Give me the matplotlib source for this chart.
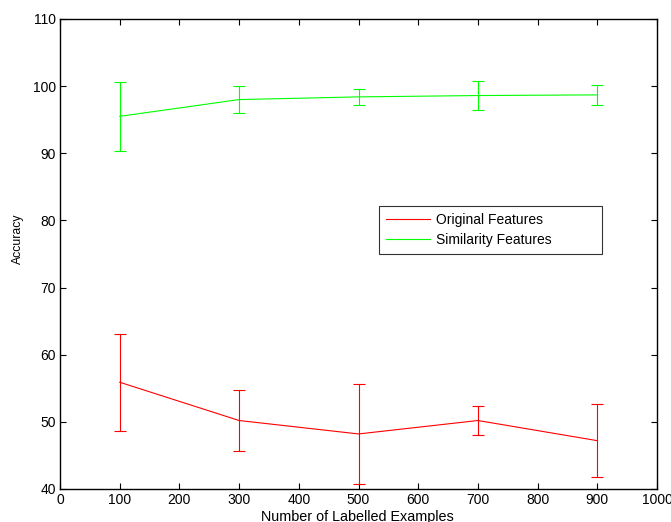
import matplotlib
matplotlib.use("Agg")
import matplotlib.pyplot as plt
from matplotlib.lines import Line2D

plt.rcParams['font.family'] = ['Liberation Sans', 'DejaVu Sans']

x = [100, 300, 500, 700, 900]
orig_mean = [55.9, 50.2, 48.2, 50.2, 47.2]
orig_err = [7.2, 4.5, 7.5, 2.2, 5.45]
sim_mean = [95.5, 98.0, 98.4, 98.6, 98.7]
sim_err = [5.1, 1.95, 1.15, 2.1, 1.5]
xticks = [0, 100, 200, 300, 400, 500, 600, 700, 800, 900, 1000]
yticks = [40, 50, 60, 70, 80, 90, 100, 110]
labels = ['Original Features', 'Similarity Features']
colors = [(1, 0, 0), (0, 1, 0)]

W, H = 671, 522
fig = plt.figure(figsize=(W/100, H/100), dpi=100)
ax = fig.add_axes([60/W, 33/H, 597/W, 470/H])

lw = 0.8
ax.errorbar(x, orig_mean, yerr=orig_err, color=colors[0], lw=lw,
            capsize=4.5, capthick=lw, elinewidth=lw)
ax.errorbar(x, sim_mean, yerr=sim_err, color=colors[1], lw=lw,
            capsize=4.5, capthick=lw, elinewidth=lw)

ax.set_xlim(0, 1000)
ax.set_ylim(40, 110)
ax.set_xticks(xticks)
ax.set_yticks(yticks)
ax.tick_params(direction='in', top=True, right=True, length=4, width=0.8,
               labelsize=10, pad=3)
for s in ax.spines.values():
    s.set_linewidth(1.0)

ax.set_xlabel('Number of Labelled Examples', fontsize=10.4)
ax.xaxis.set_label_coords((357-60)/597, -(510-489)/470)
ax.set_ylabel('Accuracy', fontsize=8.8)
ax.yaxis.set_label_coords(-(60-23.5)/597, (489-239)/470)

hs = [Line2D([], [], color=c, lw=lw) for c in colors]
x0 = (379.3-60)/597
y1 = (489-206)/470
wbox = (601.7-379.3)/597
leg = ax.legend(hs, labels, loc='upper left',
                bbox_to_anchor=(x0, y1 - 0.2, wbox, 0.2), mode='expand',
                fontsize=10, frameon=True, fancybox=False, edgecolor='black',
                borderaxespad=0, handlelength=3.17, handletextpad=0.4,
                borderpad=0.5, labelspacing=0.45)
leg.get_frame().set_linewidth(0.8)

fig.savefig('out.png', dpi=100)
